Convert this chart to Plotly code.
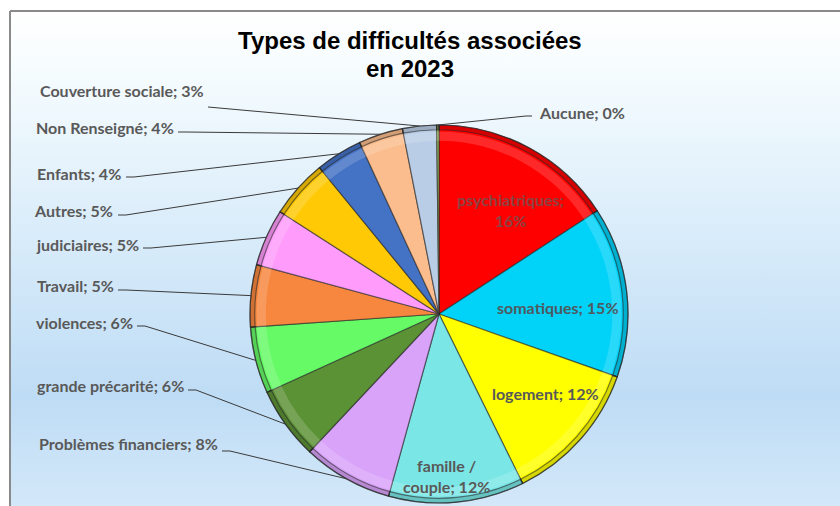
import math
import base64
import plotly.graph_objects as go

# ---------------- data ----------------
labels = ["psychiatriques", "somatiques", "logement", "famille / couple",
          "Problèmes financiers", "grande précarité", "violences", "Travail",
          "judiciaires", "Autres", "Enfants", "Non Renseigné",
          "Couverture sociale", "Aucune"]
values = [15.8, 14.6, 12.3, 11.6, 7.7, 6.2, 5.7, 5.3, 4.9, 5.0, 4.0, 3.8, 2.9, 0.2]
shown_pct = ["16%", "15%", "12%", "12%", "8%", "6%", "6%", "5%", "5%", "5%",
             "4%", "4%", "3%", "0%"]
colors = ["#ff0000", "#00d2f8", "#ffff00", "#7ae6e6", "#d9a3fa", "#5c9236",
          "#66fb66", "#f7873e", "#ff9bfb", "#ffc905", "#4472c4", "#fbbd8d",
          "#b9cde6", "#9bbb59"]
title_lines = ["Types de difficultés associées", "en 2023"]

# ---------------- layout constants ----------------
W, H = 840, 506
CX, CY, R = 439, 314, 189
LABEL_FONT = "Lato"
LABEL_SIZE = 16


def px(x):
    return x / W


def py(y):
    return 1 - y / H


# inside labels: text, radial fraction, angle offset (deg), colour
inside_cfg = {
    "psychiatriques": ("psychiatriques;<br>16%", 0.667, 5.9, "#8a4242"),
    "somatiques": ("somatiques; 15%", 0.63, 3.9, "#4f5a60"),
    "logement": ("logement; 12%", 0.70, -4.9, "#595959"),
    "famille / couple": ("famille /<br>couple; 12%", 0.86, 2.6, "#595959"),
}
# outside labels: text x, text y, anchor, line start x, line start y, horiz seg
outside_cfg = {
    "Couverture sociale": (206, 91, "right", 208, 107, 0),
    "Non Renseigné": (176, 128, "right", 178, 132, 8),
    "Enfants": (123, 173, "right", 126, 177, 8),
    "Autres": (115, 210, "right", 118, 215, 8),
    "judiciaires": (141, 244, "right", 143, 248, 8),
    "Travail": (116, 285, "right", 118, 290, 8),
    "violences": (135, 322, "right", 137, 326, 8),
    "grande précarité": (186, 385, "right", 188, 390, 8),
    "Problèmes financiers": (220, 443, "right", 222, 451, 8),
    "Aucune": (537, 112, "left", 532, 116, -6),
}

total = sum(values)
mids = []
acc = 0.0
for v in values:
    mids.append((acc + v / 2) / total * 2 * math.pi)
    acc += v


def polar(theta, r):
    return CX + r * math.sin(theta), CY - r * math.cos(theta)


def dom(r):
    return dict(x=[px(CX - r), px(CX + r)], y=[py(CY + r), py(CY - r)])


fig = go.Figure()

fig.add_trace(go.Pie(
    labels=labels, values=values, sort=False, direction="clockwise",
    rotation=0, textinfo="none", hoverinfo="skip",
    marker=dict(colors=colors, line=dict(color="rgba(40,40,40,0.6)", width=1.2)),
    domain=dom(R), showlegend=False,
))
# bevel: light inner band
r2 = R * 0.965
fig.add_trace(go.Pie(
    labels=labels, values=values, sort=False, direction="clockwise",
    rotation=0, textinfo="none", hoverinfo="skip", hole=0.95,
    marker=dict(colors=["rgba(255,255,255,0.16)"] * len(values),
                line=dict(color="rgba(40,40,40,0)", width=0)),
    domain=dom(r2), showlegend=False,
))
# bevel: dark outer rim
fig.add_trace(go.Pie(
    labels=labels, values=values, sort=False, direction="clockwise",
    rotation=0, textinfo="none", hoverinfo="skip", hole=0.975,
    marker=dict(colors=["rgba(0,0,0,0.16)"] * len(values),
                line=dict(color="rgba(40,40,40,0.6)", width=1.2)),
    domain=dom(R), showlegend=False,
))

annotations = []
shapes = []

for i, lab in enumerate(labels):
    if lab in inside_cfg:
        txt, frac, off, col = inside_cfg[lab]
        x, y = polar(mids[i] + math.radians(off), R * frac)
        annotations.append(dict(
            x=px(x), y=py(y), xref="paper", yref="paper", text=f"<b>{txt}</b>",
            showarrow=False, xanchor="center", yanchor="middle",
            font=dict(family=LABEL_FONT, size=LABEL_SIZE, color=col),
        ))
    elif lab in outside_cfg:
        tx, ty, anc, lx, ly, seg = outside_cfg[lab]
        annotations.append(dict(
            x=px(tx), y=py(ty), xref="paper", yref="paper",
            text=f"<b>{lab}; {shown_pct[i]}</b>",
            showarrow=False, xanchor=anc, yanchor="middle",
            font=dict(family=LABEL_FONT, size=LABEL_SIZE, color="#595959"),
        ))
        tipx, tipy = polar(mids[i], R)
        path = (f"M {px(lx)} {py(ly)} L {px(lx + seg)} {py(ly)} "
                f"L {px(tipx)} {py(tipy)}")
        shapes.append(dict(type="path", xref="paper", yref="paper", path=path,
                           line=dict(color="#3a3a3a", width=1), layer="above"))

# title
for txt, yy in zip(title_lines, [41, 68]):
    annotations.append(dict(x=px(410), y=py(yy), xref="paper", yref="paper",
                            text=f"<b>{txt}</b>", showarrow=False,
                            xanchor="center", yanchor="middle",
                            font=dict(family="Liberation Sans", size=24,
                                      color="#000000")))

# frame lines
shapes.append(dict(type="line", xref="paper", yref="paper", x0=px(10), y0=py(11),
                   x1=1, y1=py(11), line=dict(color="#8a8a8a", width=2), layer="above"))
shapes.append(dict(type="line", xref="paper", yref="paper", x0=px(10), y0=py(11),
                   x1=px(10), y1=0, line=dict(color="#8a8a8a", width=2), layer="above"))

svg = ("<svg xmlns='http://www.w3.org/2000/svg' width='100' height='100' "
       "viewBox='0 0 100 100' preserveAspectRatio='none'>"
       "<defs><linearGradient id='g' x1='0' y1='0' x2='0' y2='1'>"
       "<stop offset='0' stop-color='#ffffff'/>"
       "<stop offset='0.12' stop-color='#f6fcfe'/>"
       "<stop offset='0.45' stop-color='#d9ecfa'/>"
       "<stop offset='0.78' stop-color='#bedcf5'/>"
       "<stop offset='1' stop-color='#d3e8f9'/>"
       "</linearGradient></defs>"
       "<rect x='0' y='0' width='100' height='100' fill='url(#g)'/></svg>")
src = "data:image/svg+xml;base64," + base64.b64encode(svg.encode()).decode()

fig.update_layout(
    width=W, height=H,
    margin=dict(l=0, r=0, t=0, b=0),
    paper_bgcolor="#ffffff",
    plot_bgcolor="rgba(0,0,0,0)",
    annotations=annotations,
    shapes=shapes,
    images=[dict(source=src, xref="paper", yref="paper", x=px(10), y=py(11),
                 sizex=1 - px(10), sizey=py(11), sizing="stretch",
                 xanchor="left", yanchor="top", layer="below")],
    showlegend=False,
)

fig.write_html("out.html")
